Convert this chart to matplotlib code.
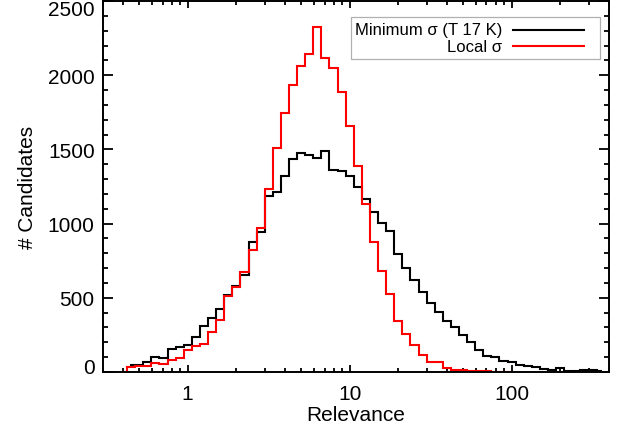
import numpy as np
import matplotlib
matplotlib.use("Agg")
import matplotlib.pyplot as plt
from matplotlib.ticker import FixedLocator, FixedFormatter
from matplotlib.lines import Line2D
from matplotlib.patches import Rectangle
from matplotlib.transforms import ScaledTranslation

plt.rcParams['font.family'] = ['Liberation Sans', 'DejaVu Sans']

# ---- data: log10 of bin centres (Relevance) and counts ----
black_log = [-0.35, -0.30, -0.25, -0.20, -0.15, -0.10, -0.05, 0.00, 0.05, 0.10,
             0.15, 0.20, 0.25, 0.30, 0.35, 0.40, 0.45, 0.50, 0.55, 0.60,
             0.65, 0.70, 0.75, 0.80, 0.85, 0.90, 0.95, 1.00, 1.05, 1.10,
             1.15, 1.20, 1.25, 1.30, 1.35, 1.40, 1.45, 1.50, 1.55, 1.60,
             1.65, 1.70, 1.75, 1.80, 1.85, 1.90, 1.95, 2.00, 2.05, 2.10,
             2.15, 2.20, 2.25, 2.30, 2.35, 2.40, 2.45, 2.50, 2.55]
black_counts = [47, 50, 70, 103, 94, 152, 171, 180, 236, 309,
                366, 422, 520, 580, 654, 876, 946, 1185, 1211, 1319,
                1436, 1474, 1465, 1440, 1487, 1361, 1352, 1319, 1245, 1166,
                1080, 1002, 950, 793, 699, 622, 537, 463, 407, 346,
                301, 250, 202, 150, 110, 99, 76, 65, 47, 38,
                31, 20, 13, 25, 9, 9, 13, 11, 4]

red_log = [-0.40, -0.35, -0.30, -0.25, -0.20, -0.15, -0.10, -0.05, 0.00, 0.05,
           0.10, 0.15, 0.20, 0.25, 0.30, 0.35, 0.40, 0.45, 0.50, 0.55,
           0.60, 0.65, 0.70, 0.75, 0.80, 0.85, 0.90, 0.95, 1.00, 1.05,
           1.10, 1.15, 1.20, 1.25, 1.30, 1.35, 1.40, 1.45, 1.50, 1.55,
           1.60, 1.65, 1.70, 1.75, 1.80, 1.85, 1.90, 1.95, 2.00]
red_counts = [0, 32, 40, 43, 61, 54, 83, 94, 145, 175,
              189, 267, 348, 510, 570, 677, 822, 973, 1235, 1510,
              1744, 1937, 2065, 2143, 2323, 2116, 2050, 1888, 1656, 1391,
              1135, 877, 683, 526, 346, 256, 184, 117, 65, 65,
              27, 15, 13, 9, 6, 5, 3, 2, 1]

labels = ["Minimum \u03c3 (T 17 K)", "Local \u03c3"]
x_ticks = [1, 10, 100]
x_ticklabels = ["1", "10", "100"]
y_ticks = [0, 500, 1000, 1500, 2000, 2500]
y_ticklabels = ["0", "500", "1000", "1500", "2000", "2500"]

# ---- figure ----
W, H = 632, 435
fig = plt.figure(figsize=(W / 100, H / 100), dpi=100)
ax = fig.add_axes([103 / W, 1 - 373 / H, 506 / W, 371 / H])

bx = 10 ** np.array(black_log)
rx = 10 ** np.array(red_log)
ax.step(bx, black_counts, where='mid', color='black', lw=1.5, solid_joinstyle='miter')
ax.step(rx, red_counts, where='mid', color='#ff0000', lw=1.5, solid_joinstyle='miter')

ax.set_xscale('log')
ax.set_xlim(0.3, 400)
ax.set_ylim(0, 2500)

ax.xaxis.set_major_locator(FixedLocator(x_ticks))
ax.xaxis.set_major_formatter(FixedFormatter(x_ticklabels))
minors = [m * d for d in (0.1, 1, 10, 100) for m in range(2, 10)]
ax.xaxis.set_minor_locator(FixedLocator(minors))
ax.xaxis.set_minor_formatter(FixedFormatter([""] * len(minors)))
ax.yaxis.set_major_locator(FixedLocator(y_ticks))
ax.yaxis.set_major_formatter(FixedFormatter(y_ticklabels))
ax.yaxis.set_minor_locator(FixedLocator([v for v in range(0, 2501, 100) if v % 500]))

ax.tick_params(axis='both', which='both', direction='in', top=True, right=True,
               labelsize=15, width=1.3, colors='black')
ax.tick_params(axis='x', which='major', length=5.3, pad=9)
ax.tick_params(axis='x', which='minor', length=2.7)
ax.tick_params(axis='y', which='major', length=7.2, pad=6)
ax.tick_params(axis='y', which='minor', length=3.6)
for s in ax.spines.values():
    s.set_linewidth(1.4)

# end labels of the y axis sit slightly inside the axis range, as in the reference
yt = ax.yaxis.get_major_ticks()
yt[0].label1.set_transform(yt[0].label1.get_transform() +
                           ScaledTranslation(0, 6 / 100, fig.dpi_scale_trans))
yt[-1].label1.set_transform(yt[-1].label1.get_transform() +
                            ScaledTranslation(0, -6 / 100, fig.dpi_scale_trans))

ax.set_xlabel("Relevance", fontsize=15, labelpad=1)
ax.set_ylabel("# Candidates", fontsize=15, labelpad=8)

# ---- legend (text right-aligned before the line sample) ----
ax.add_patch(Rectangle((0.490, 0.844), 0.492, 0.113, transform=ax.transAxes,
                       facecolor='white', edgecolor='#b0b0b0', lw=0.9, zorder=5))
rows_y = [0.922, 0.878]
for lab, col, yy in zip(labels, ['black', '#ff0000'], rows_y):
    ax.text(0.789, yy, lab, transform=ax.transAxes, ha='right', va='center',
            fontsize=12, zorder=6)
    ax.add_line(Line2D([0.810, 0.951], [yy, yy], transform=ax.transAxes,
                       color=col, lw=1.5, zorder=6))

fig.savefig("out.png", dpi=100)
